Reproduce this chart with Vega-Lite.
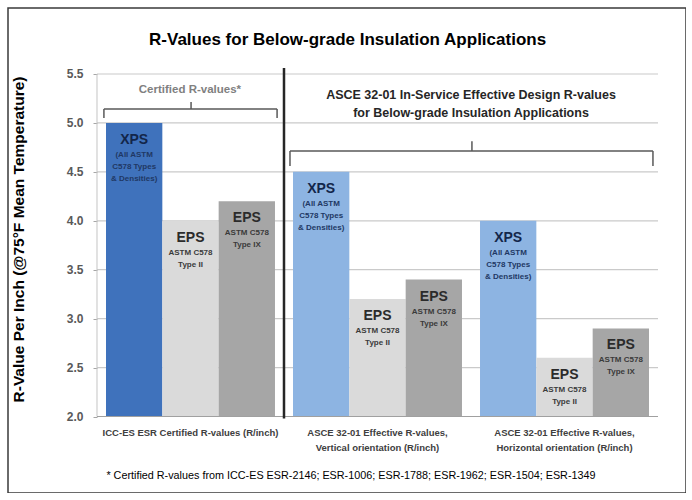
{
  "$schema": "https://vega.github.io/schema/vega-lite/v6.json",
  "width": 678,
  "height": 485,
  "autosize": {"type": "none"},
  "padding": {"left": 8, "top": 8, "right": 0, "bottom": 0},
  "background": "white",
  "config": {
    "view": {"stroke": "#3a3a3a", "strokeWidth": 1.5},
    "font": "Liberation Sans"
  },
  "datasets": {
    "bars": [
      {"group": "ICC-ES ESR Certified R-values (R/inch)", "material": "XPS", "kind": "XPS certified", "r": 5.0, "head": "XPS", "sub": ["(All ASTM", "C578 Types", "& Densities)"]},
      {"group": "ICC-ES ESR Certified R-values (R/inch)", "material": "EPS Type II", "kind": "EPS Type II", "r": 4.0, "head": "EPS", "sub": ["ASTM C578", "Type II"]},
      {"group": "ICC-ES ESR Certified R-values (R/inch)", "material": "EPS Type IX", "kind": "EPS Type IX", "r": 4.2, "head": "EPS", "sub": ["ASTM C578", "Type IX"]},
      {"group": "ASCE 32-01 Effective R-values, Vertical orientation (R/inch)", "material": "XPS", "kind": "XPS effective", "r": 4.5, "head": "XPS", "sub": ["(All ASTM", "C578 Types", "& Densities)"]},
      {"group": "ASCE 32-01 Effective R-values, Vertical orientation (R/inch)", "material": "EPS Type II", "kind": "EPS Type II", "r": 3.2, "head": "EPS", "sub": ["ASTM C578", "Type II"]},
      {"group": "ASCE 32-01 Effective R-values, Vertical orientation (R/inch)", "material": "EPS Type IX", "kind": "EPS Type IX", "r": 3.4, "head": "EPS", "sub": ["ASTM C578", "Type IX"]},
      {"group": "ASCE 32-01 Effective R-values, Horizontal orientation (R/inch)", "material": "XPS", "kind": "XPS effective", "r": 4.0, "head": "XPS", "sub": ["(All ASTM", "C578 Types", "& Densities)"]},
      {"group": "ASCE 32-01 Effective R-values, Horizontal orientation (R/inch)", "material": "EPS Type II", "kind": "EPS Type II", "r": 2.6, "head": "EPS", "sub": ["ASTM C578", "Type II"]},
      {"group": "ASCE 32-01 Effective R-values, Horizontal orientation (R/inch)", "material": "EPS Type IX", "kind": "EPS Type IX", "r": 2.9, "head": "EPS", "sub": ["ASTM C578", "Type IX"]}
    ],
    "grid": [{"v": 2.5}, {"v": 3.0}, {"v": 3.5}, {"v": 4.0}, {"v": 4.5}, {"v": 5.0}, {"v": 5.5}]
  },
  "resolve": {"scale": {"x": "independent"}},
  "layer": [
    {
      "layer": [
        {
          "data": {"name": "grid"},
          "mark": {"type": "rule", "color": "#cacaca", "strokeWidth": 1.2},
          "encoding": {
            "x": {"datum": 0, "type": "quantitative", "scale": {"domain": [-0.4759, 3.1497], "nice": false, "zero": false}, "axis": null},
            "x2": {"datum": 3},
            "y": {
              "field": "v", "type": "quantitative", "scale": {"domain": [1.2183, 6.1744], "nice": false, "zero": false},
              "axis": {
                "orient": "left", "offset": -89, "values": [2, 2.5, 3, 3.5, 4, 4.5, 5, 5.5], "format": ".1f",
                "domain": false, "grid": false, "ticks": true, "tickSize": 4, "tickColor": "#a6a6a6",
                "labelFont": "Liberation Sans", "labelFontWeight": "bold", "labelFontSize": 12, "labelColor": "#595959",
                "labelPadding": 10,
                "title": "R-Value Per Inch (@75°F Mean Temperature)",
                "titleFont": "Liberation Sans", "titleFontSize": 15.5, "titleFontWeight": "bold", "titleColor": "#000000",
                "titlePadding": 40, "titleY": 231
              }
            }
          }
        },
        {
          "data": {"values": [{}]},
          "mark": {"type": "rule", "color": "#c4c4c4", "strokeWidth": 1},
          "encoding": {
            "x": {"datum": 0, "type": "quantitative", "axis": null},
            "y": {"datum": 2, "type": "quantitative"},
            "y2": {"datum": 5.5}
          }
        }
      ]
    },
    {
      "data": {"name": "bars"},
      "encoding": {
        "x": {
          "field": "group", "type": "nominal", "sort": null,
          "scale": {"type": "band", "paddingInner": 0, "paddingOuter": 0.3128, "align": 0.7607},
          "axis": {
            "title": null, "orient": "bottom", "offset": -76.5, "domain": false, "ticks": false,
            "labelAngle": 0, "labelExpr": "split(replace(datum.value, ', ', ',|'), '|')",
            "labelFont": "Liberation Sans", "labelFontWeight": "bold", "labelFontSize": 9.5,
            "labelColor": "#404040", "labelPadding": 11, "labelLineHeight": 14.5, "labelLimit": 400,
            "labelBaseline": "top"
          }
        },
        "xOffset": {
          "field": "material", "type": "nominal",
          "scale": {"domain": ["XPS", "EPS Type II", "EPS Type IX"], "paddingInner": 0, "paddingOuter": 0.16}
        },
        "y": {"field": "r", "type": "quantitative"}
      },
      "layer": [
        {
          "mark": {"type": "bar"},
          "encoding": {
            "y2": {"datum": 2},
            "color": {
              "field": "kind", "type": "nominal", "legend": null,
              "scale": {
                "domain": ["XPS certified", "XPS effective", "EPS Type II", "EPS Type IX"],
                "range": ["#3f72bc", "#8db4e2", "#dadada", "#a6a6a6"]
              }
            }
          }
        },
        {
          "mark": {"type": "text", "baseline": "middle", "align": "center", "dy": 17, "fontSize": 14, "fontWeight": "bold", "font": "Liberation Sans"},
          "encoding": {
            "text": {"field": "head", "type": "nominal"},
            "color": {"condition": {"test": "datum.head == 'XPS'", "value": "#13264a"}, "value": "#2b2b2b"}
          }
        },
        {
          "mark": {"type": "text", "baseline": "top", "align": "center", "dy": 28, "fontSize": 8, "fontWeight": "bold", "lineHeight": 12, "font": "Liberation Sans"},
          "encoding": {
            "text": {"field": "sub", "type": "nominal"},
            "color": {"condition": {"test": "datum.head == 'XPS'", "value": "#1f3864"}, "value": "#3a3a3a"}
          }
        }
      ]
    },
    {
      "layer": [
        {
          "data": {"values": [{}]},
          "mark": {"type": "rule", "color": "#a0a0a0", "strokeWidth": 1.2},
          "encoding": {
            "x": {"datum": 0, "type": "quantitative", "scale": {"domain": [-0.4759, 3.1497], "nice": false, "zero": false}, "axis": null},
            "x2": {"datum": 3},
            "y": {"datum": 2, "type": "quantitative"}
          }
        },
        {
          "data": {"values": [{}]},
          "mark": {"type": "rule", "color": "#262626", "strokeWidth": 2.5},
          "encoding": {
            "x": {"datum": 1, "type": "quantitative", "axis": null},
            "y": {"datum": 5.56, "type": "quantitative"},
            "y2": {"datum": 1.98}
          }
        },
        {
          "data": {"values": [{}]},
          "mark": {"type": "rule", "color": "#595959", "strokeWidth": 1.5},
          "encoding": {"x": {"datum": 0.037, "type": "quantitative", "axis": null}, "x2": {"datum": 0.963}, "y": {"datum": 5.142, "type": "quantitative"}}
        },
        {
          "data": {"values": [{}]},
          "mark": {"type": "rule", "color": "#595959", "strokeWidth": 1.5},
          "encoding": {"x": {"datum": 0.037, "type": "quantitative", "axis": null}, "y": {"datum": 5.142, "type": "quantitative"}, "y2": {"datum": 5.05}}
        },
        {
          "data": {"values": [{}]},
          "mark": {"type": "rule", "color": "#595959", "strokeWidth": 1.5},
          "encoding": {"x": {"datum": 0.963, "type": "quantitative", "axis": null}, "y": {"datum": 5.142, "type": "quantitative"}, "y2": {"datum": 5.05}}
        },
        {
          "data": {"values": [{}]},
          "mark": {"type": "rule", "color": "#595959", "strokeWidth": 1.5},
          "encoding": {"x": {"datum": 0.503, "type": "quantitative", "axis": null}, "y": {"datum": 5.142, "type": "quantitative"}, "y2": {"datum": 5.214}}
        },
        {
          "data": {"values": [{}]},
          "mark": {"type": "rule", "color": "#595959", "strokeWidth": 1.5},
          "encoding": {"x": {"datum": 1.032, "type": "quantitative", "axis": null}, "x2": {"datum": 2.973}, "y": {"datum": 4.712, "type": "quantitative"}}
        },
        {
          "data": {"values": [{}]},
          "mark": {"type": "rule", "color": "#595959", "strokeWidth": 1.5},
          "encoding": {"x": {"datum": 1.032, "type": "quantitative", "axis": null}, "y": {"datum": 4.712, "type": "quantitative"}, "y2": {"datum": 4.559}}
        },
        {
          "data": {"values": [{}]},
          "mark": {"type": "rule", "color": "#595959", "strokeWidth": 1.5},
          "encoding": {"x": {"datum": 2.973, "type": "quantitative", "axis": null}, "y": {"datum": 4.712, "type": "quantitative"}, "y2": {"datum": 4.559}}
        },
        {
          "data": {"values": [{}]},
          "mark": {"type": "rule", "color": "#595959", "strokeWidth": 1.5},
          "encoding": {"x": {"datum": 2.005, "type": "quantitative", "axis": null}, "y": {"datum": 4.712, "type": "quantitative"}, "y2": {"datum": 4.814}}
        },
        {
          "data": {"values": [{}]},
          "mark": {"type": "text", "text": "Certified R-values*", "font": "Liberation Sans", "fontSize": 11.5, "fontWeight": "bold", "color": "#808080", "align": "center", "baseline": "middle"},
          "encoding": {"x": {"datum": 0.497, "type": "quantitative", "axis": null}, "y": {"datum": 5.336, "type": "quantitative"}}
        },
        {
          "data": {"values": [{}]},
          "mark": {"type": "text", "text": "ASCE 32-01 In-Service Effective Design R-values", "font": "Liberation Sans", "fontSize": 12.5, "fontWeight": "bold", "color": "#262626", "align": "center", "baseline": "middle"},
          "encoding": {"x": {"datum": 2.0, "type": "quantitative", "axis": null}, "y": {"datum": 5.285, "type": "quantitative"}}
        },
        {
          "data": {"values": [{}]},
          "mark": {"type": "text", "text": "for Below-grade Insulation Applications", "font": "Liberation Sans", "fontSize": 12.5, "fontWeight": "bold", "color": "#262626", "align": "center", "baseline": "middle"},
          "encoding": {"x": {"datum": 2.0, "type": "quantitative", "axis": null}, "y": {"datum": 5.101, "type": "quantitative"}}
        },
        {
          "data": {"values": [{}]},
          "mark": {"type": "text", "text": "R-Values for Below-grade Insulation Applications", "font": "Liberation Sans", "fontSize": 17, "fontWeight": "bold", "color": "#000000", "align": "center", "baseline": "middle"},
          "encoding": {"x": {"datum": 1.34, "type": "quantitative", "axis": null}, "y": {"datum": 5.847, "type": "quantitative"}}
        },
        {
          "data": {"values": [{}]},
          "mark": {"type": "text", "text": "* Certified R-values from ICC-ES  ESR-2146; ESR-1006; ESR-1788; ESR-1962; ESR-1504; ESR-1349", "font": "Liberation Sans", "fontSize": 10.8, "color": "#000000", "align": "center", "baseline": "middle"},
          "encoding": {"x": {"datum": 1.358, "type": "quantitative", "axis": null}, "y": {"datum": 1.392, "type": "quantitative"}}
        }
      ]
    }
  ]
}
